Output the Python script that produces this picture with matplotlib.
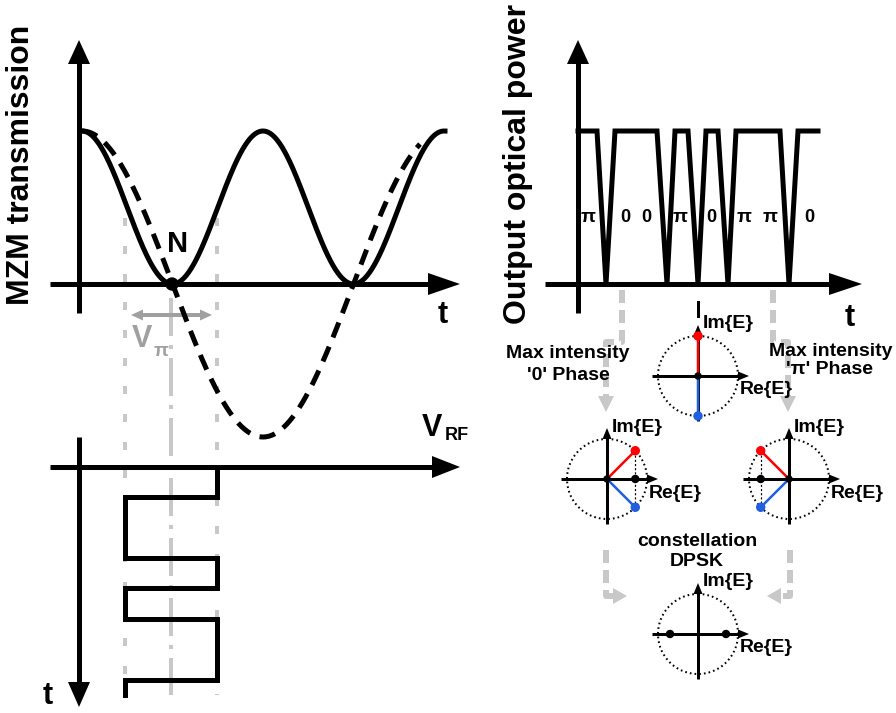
import numpy as np
import matplotlib.pyplot as plt
from matplotlib.patches import Polygon, Circle

plt.rcParams['font.family'] = ['Liberation Sans', 'DejaVu Sans']
plt.rcParams['font.weight'] = 'bold'
plt.rcParams['lines.scale_dashes'] = False

# --- data (diagram coordinates, pixels of the 896x713 canvas) ---
# MZM transfer: maximum / null levels and half period of the cos^2 response
mzm_top, mzm_zero, mzm_half = 131, 284, 181
mzm_x0, mzm_x1, mzm_dash_end = 82, 445, 420

# drive square wave (x = voltage level, y = time)
drive_x = [217, 217, 125, 125, 217, 217, 125, 125, 217, 217, 125, 125]
drive_y = [467, 497, 497, 558, 558, 588, 588, 619, 619, 680, 680, 695]

# output optical power (1 = high, 0 = null crossing)
sig_t = [578, 597, 606, 615, 657, 667, 675, 688, 698, 706, 718, 728, 736, 780, 789, 798, 818]
sig_lv = [1, 1, 0, 1, 1, 0, 1, 1, 0, 1, 1, 0, 1, 1, 0, 1, 1]
phase_lbl = ['π', '0', '0', 'π', '0', 'π', 'π', '0']
phase_t = [588, 625, 646, 680, 711, 744, 770, 809]

# constellation diagrams: centre and field points (angle in degrees, colour)
const_centres = [(698, 376), (607, 479), (789, 479), (698, 634)]
const_points = [
    [(90, 'red'), (-90, '#1f5fe0')],
    [(45, 'red'), (-45, '#1f5fe0')],
    [(135, 'red'), (-135, '#1f5fe0')],
    [],
]
const_radius = 40

fig = plt.figure(figsize=(8.96, 7.13), dpi=100)
ax = fig.add_axes([0, 0, 1, 1])
ax.set_xlim(0, 896)
ax.set_ylim(713, 0)
ax.axis('off')

K = 0.72  # px -> pt
LGRAY = '#c8c8c8'
MGRAY = '#a0a0a0'


def arrow(x0, y0, x1, y1, color='k', lw=5, hl=24, hw=22, ls='-', z=3):
    d = np.array([x1 - x0, y1 - y0], float)
    n = np.hypot(*d)
    u = d / n
    p = np.array([-u[1], u[0]])
    base = np.array([x1, y1]) - u * hl
    ax.plot([x0, base[0] + u[0] * 2], [y0, base[1] + u[1] * 2], color=color,
            lw=lw * K, ls=ls, solid_capstyle='butt', dash_capstyle='butt', zorder=z)
    tri = [(x1, y1), tuple(base + p * hw / 2), tuple(base - p * hw / 2)]
    ax.add_patch(Polygon(tri, closed=True, color=color, lw=0, zorder=z))


# --- left: MZM transmission ---
gdash = (0, (8 * K, 20 * K))
for gx in (125, 217):
    ax.plot([gx, gx], [218, 695], color=LGRAY, lw=4 * K, ls=gdash, zorder=1)
ax.plot([171, 171], [298, 695], color=LGRAY, lw=4 * K,
        ls=(0, (38 * K, 9 * K, 4 * K, 9 * K)), zorder=1)

arrow(79, 313, 79, 40, hl=24)
arrow(50, 284, 460, 284, hl=32)

xs = np.linspace(mzm_x0, mzm_x1, 600)
ph = np.pi * (xs - mzm_x0) / mzm_half
amp = mzm_zero - mzm_top
ax.plot(xs, mzm_zero - amp * np.cos(ph) ** 2, color='k', lw=5 * K, zorder=4)
xd = np.linspace(mzm_x0, mzm_dash_end, 600)
phd = np.pi * (xd - mzm_x0) / mzm_half
ax.plot(xd, mzm_zero - amp * np.cos(phd), color='k', lw=5 * K,
        ls=(0, (16 * K, 10 * K)), dash_capstyle='butt', zorder=4)
ax.add_patch(Circle((172, 284), 6, color='k', zorder=5))
ax.text(178, 244, 'N', fontsize=21, ha='center', va='center', zorder=5)

ax.text(6, 165, 'MZM transmission', fontsize=23, rotation=90,
        ha='left', va='center')
ax.text(443, 315, 't', fontsize=22, ha='center', va='center')

# V_pi double arrow
arrow(172, 315, 131, 315, color=MGRAY, lw=4, hl=12, hw=11, z=2)
arrow(170, 315, 212, 315, color=MGRAY, lw=4, hl=12, hw=11, z=2)
ax.text(142, 339, 'V', fontsize=22, color=MGRAY, ha='center', va='center')
ax.text(161, 352, 'π', fontsize=14, color=MGRAY, ha='center', va='center')

# --- bottom left: drive signal ---
arrow(50, 467, 460, 467, hl=28)
arrow(79, 437, 79, 707, hl=25)
ax.plot(drive_x, drive_y, color='k', lw=5 * K, solid_joinstyle='miter', zorder=4)
ax.text(432, 428, 'V', fontsize=22, ha='center', va='center')
ax.text(457, 435, 'RF', fontsize=13, ha='center', va='center')
ax.text(48, 696, 't', fontsize=22, ha='center', va='center')

# --- right: output optical power ---
arrow(578, 313, 578, 40, hl=24)
arrow(545, 284, 862, 284, hl=33)
sig_y = [mzm_zero - amp * lv for lv in sig_lv]
ax.plot(sig_t, sig_y, color='k', lw=5 * K, solid_joinstyle='miter', zorder=4)
for lbl, tx in zip(phase_lbl, phase_t):
    ax.text(tx, 217, lbl, fontsize=14 if lbl == 'π' else 13, ha='center', va='center')
ax.text(503, 164, 'Output optical power', fontsize=23, rotation=90,
        ha='left', va='center')
ax.text(850, 318, 't', fontsize=22, ha='center', va='center')

# gray guide arrows
adash = (0, (13 * K, 7 * K))
for xa, xb in ((622, 606), (773, 788)):
    ax.plot([xa, xa, xb, xb], [290, 342, 342, 396], color=LGRAY, lw=6 * K,
            ls=adash, zorder=1)
    ax.add_patch(Polygon([(xb, 412), (xb - 8, 396), (xb + 8, 396)], color=LGRAY, lw=0, zorder=1))
for xa, tip in ((606, 627), (790, 767)):
    s = 1 if tip > xa else -1
    ax.plot([xa, xa, tip - s * 14], [550, 596, 596], color=LGRAY, lw=6 * K,
            ls=adash, zorder=1)
    ax.add_patch(Polygon([(tip, 596), (tip - s * 14, 588), (tip - s * 14, 604)],
                         color=LGRAY, lw=0, zorder=1))

ax.plot([698, 698], [302, 316], color='k', lw=3 * K)

# constellations
for (cx, cy), pts in zip(const_centres, const_points):
    r = const_radius
    ax.add_patch(Circle((cx, cy), r, fill=False, ec='k', lw=2 * K,
                        ls=(0, (1.2, 2.2)), zorder=3))
    arrow(cx - 46, cy, cx + 51, cy, lw=3, hl=11, hw=9, z=4)
    arrow(cx, cy + 45, cx, cy - 51, lw=3, hl=11, hw=9, z=4)
    ends = []
    for ang, col in pts:
        px = cx + r * np.cos(np.radians(ang))
        py = cy - r * np.sin(np.radians(ang))
        ax.plot([cx, px], [cy, py], color=col, lw=2.5 * K, zorder=5)
        ax.add_patch(Circle((px, py), 4, color=col, zorder=6))
        ends.append((px, py))
    if len(ends) == 2 and abs(ends[0][0] - cx) > 1:
        ax.plot([ends[0][0]] * 2, [ends[0][1], ends[1][1]], color='k', lw=1.2 * K,
                ls=(0, (1.5, 1.5)), zorder=5)
        ax.add_patch(Circle((ends[0][0], cy), 3.5, color='k', zorder=6))
    if not pts:
        for dx in (-28, 28):
            ax.add_patch(Circle((cx + dx, cy), 3.5, color='k', zorder=6))
    else:
        ax.add_patch(Circle((cx, cy), 3, color='k', zorder=6))
    ax.text(cx + 5, cy - 52, 'Im{E}', fontsize=14, ha='left', va='center', zorder=7)
    ax.text(cx + 42, cy + 14, 'Re{E}', fontsize=14, ha='left', va='center', zorder=7)

ax.text(568, 353, 'Max intensity', fontsize=14, ha='center', va='center', zorder=7)
ax.text(568, 375, "'0' Phase", fontsize=14, ha='center', va='center', zorder=7)
ax.text(831, 352, 'Max intensity', fontsize=14, ha='center', va='center', zorder=7)
ax.text(830, 370, "'π' Phase", fontsize=14, ha='center', va='center', zorder=7)
ax.text(697, 541, 'constellation', fontsize=14, ha='center', va='center')
ax.text(697, 562, 'DPSK', fontsize=14, ha='center', va='center')

fig.savefig('out.png', dpi=100)
